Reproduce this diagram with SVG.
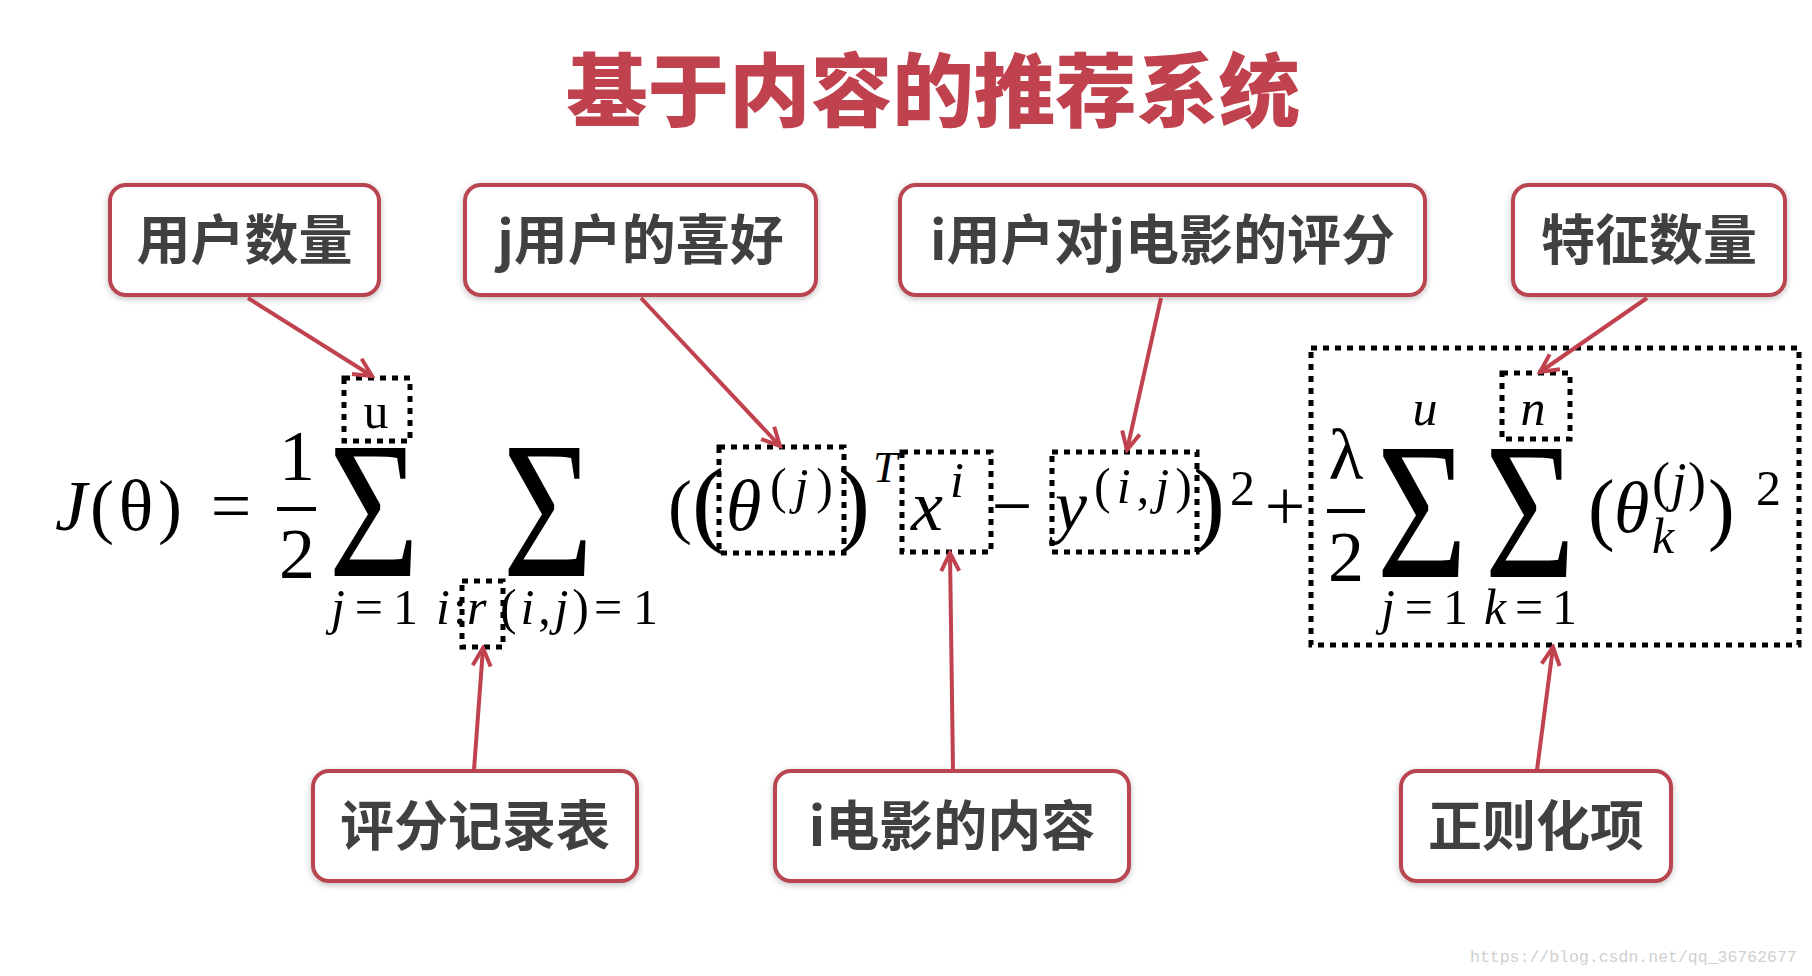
<svg xmlns="http://www.w3.org/2000/svg" width="1812" height="976" viewBox="0 0 1812 976">
<style>
.title{font-family:"Noto Sans CJK SC","Noto Sans",sans-serif;font-weight:900;font-size:80px;fill:#c0424e;text-anchor:middle}
.box{fill:#fff;stroke:#b8454f;stroke-width:4}
.lbl{font-family:"Noto Sans CJK SC","Noto Sans",sans-serif;font-weight:700;font-size:54px;fill:#404040;text-anchor:middle}
.m{font-family:"Liberation Serif","Times New Roman",serif;fill:#000}
.it{font-style:italic}
.big{font-size:72px}
.sup{font-size:50px}
.lim{font-size:50px}
.mid{text-anchor:middle}
.dot{fill:none;stroke:#000;stroke-width:5;stroke-dasharray:6 6}
.arr{fill:none;stroke:#c0424f;stroke-width:4;marker-end:url(#ah)}
.wm{font-family:"Liberation Mono",monospace;font-size:16.5px;fill:#d0d0d0}
</style>
<defs>
<marker id="ah" viewBox="0 0 24 24" refX="21" refY="12" markerWidth="24" markerHeight="24" orient="auto" markerUnits="userSpaceOnUse">
<path d="M3,3 L21,12 L3,21" fill="none" stroke="#c0424f" stroke-width="4"/>
</marker>
<filter id="sh" x="-10%" y="-20%" width="120%" height="140%">
<feDropShadow dx="0" dy="2" stdDeviation="3" flood-color="#000" flood-opacity="0.25"/>
</filter>
</defs>
<rect width="1812" height="976" fill="#fff"/>
<text class="title" x="933" y="120" textLength="734" lengthAdjust="spacingAndGlyphs">基于内容的推荐系统</text>

<g id="n-users"><rect class="box" filter="url(#sh)" x="110" y="185" width="269" height="110" rx="16"/><text class="lbl" x="244.5" y="260">用户数量</text></g>
<g id="n-pref"><rect class="box" filter="url(#sh)" x="465" y="185" width="351" height="110" rx="16"/><text class="lbl" x="640.5" y="260">j用户的喜好</text></g>
<g id="n-rating"><rect class="box" filter="url(#sh)" x="900" y="185" width="525" height="110" rx="16"/><text class="lbl" x="1162.5" y="260">i用户对j电影的评分</text></g>
<g id="n-feat"><rect class="box" filter="url(#sh)" x="1513" y="185" width="272" height="110" rx="16"/><text class="lbl" x="1649" y="260">特征数量</text></g>
<g id="n-table"><rect class="box" filter="url(#sh)" x="313" y="771" width="324" height="110" rx="16"/><text class="lbl" x="475" y="846">评分记录表</text></g>
<g id="n-content"><rect class="box" filter="url(#sh)" x="775" y="771" width="354" height="110" rx="16"/><text class="lbl" x="952" y="846">i电影的内容</text></g>
<g id="n-reg"><rect class="box" filter="url(#sh)" x="1401" y="771" width="270" height="110" rx="16"/><text class="lbl" x="1536" y="846">正则化项</text></g>

<g id="formula">
<text class="m big it" x="55" y="530">J</text>
<text class="m big" x="90" y="530" textLength="92" lengthAdjust="spacing">(θ)</text>
<text class="m big mid" x="231" y="530">=</text>
<text class="m big mid" x="297" y="480">1</text>
<line x1="277" y1="509" x2="316" y2="509" stroke="#000" stroke-width="4"/>
<text class="m big mid" x="297" y="578">2</text>
<text class="m mid" font-size="195" transform="translate(374,576) scale(0.8,1)">Σ</text>
<text class="m sup mid" x="376" y="428">u</text>
<text class="m lim" x="331" y="624" textLength="87" lengthAdjust="spacing"><tspan class="it">j</tspan>=1</text>
<text class="m mid" font-size="195" transform="translate(548,576) scale(0.8,1)">Σ</text>
<text class="m lim it" x="436" y="624">i</text>
<text class="m lim" x="453" y="624">:</text>
<text class="m lim it" x="467" y="624">r</text>
<text class="m lim" x="500" y="624" textLength="89" lengthAdjust="spacing">(<tspan class="it">i</tspan>,<tspan class="it">j</tspan>)</text>
<text class="m lim" x="594" y="624" textLength="64" lengthAdjust="spacing">=1</text>

<text class="m big" x="668" y="530">(</text>
<text class="m" font-size="96" x="692" y="534">(</text>
<text class="m big it" x="726" y="530">θ</text>
<text class="m sup" x="770" y="503" textLength="63" lengthAdjust="spacing">(<tspan class="it">j</tspan>)</text>
<text class="m" font-size="96" x="838" y="534">)</text>
<text class="m it" font-size="44" x="873" y="482">T</text>
<text class="m big it" x="911" y="530">x</text>
<text class="m sup it" x="950" y="497">i</text>
<text class="m big mid" x="1012" y="530">−</text>
<text class="m big it" x="1055" y="530">y</text>
<text class="m sup" x="1094" y="503" textLength="98" lengthAdjust="spacing">(<tspan class="it">i</tspan>,<tspan class="it">j</tspan>)</text>
<text class="m" font-size="96" x="1193" y="534">)</text>
<text class="m sup" x="1230" y="505">2</text>
<text class="m big mid" x="1285" y="530">+</text>

<text class="m big mid" x="1346" y="479">λ</text>
<line x1="1327" y1="511" x2="1365" y2="511" stroke="#000" stroke-width="4"/>
<text class="m big mid" x="1346" y="581">2</text>
<text class="m mid" font-size="195" transform="translate(1422,577) scale(0.8,1)">Σ</text>
<text class="m sup it mid" x="1425" y="425">u</text>
<text class="m lim" x="1381" y="624" textLength="87" lengthAdjust="spacing"><tspan class="it">j</tspan>=1</text>
<text class="m mid" font-size="195" transform="translate(1530,577) scale(0.8,1)">Σ</text>
<text class="m sup it mid" x="1533" y="425">n</text>
<text class="m lim" x="1484" y="624" textLength="93" lengthAdjust="spacing"><tspan class="it">k</tspan>=1</text>
<text class="m" font-size="80" x="1588" y="535">(</text>
<text class="m big it" x="1614" y="532">θ</text>
<text class="m" font-size="54" x="1652" y="500" textLength="54" lengthAdjust="spacing">(<tspan class="it">j</tspan>)</text>
<text class="m sup it" x="1652" y="553">k</text>
<text class="m" font-size="80" x="1708" y="535">)</text>
<text class="m sup" x="1756" y="505">2</text>
</g>

<g id="highlights">
<rect class="dot" x="344" y="378" width="66" height="63"/>
<rect class="dot" x="462" y="581" width="41" height="66"/>
<rect class="dot" x="719" y="447" width="125" height="106"/>
<rect class="dot" x="902" y="452" width="89" height="100"/>
<rect class="dot" x="1052" y="452" width="145" height="100"/>
<rect class="dot" x="1311" y="348" width="488" height="297" stroke-width="6" stroke-dasharray="7 7"/>
<rect class="dot" x="1502" y="373" width="68" height="66"/>
</g>

<g id="connectors">
<line class="arr" x1="248" y1="298" x2="372" y2="376"/>
<line class="arr" x1="641" y1="298" x2="780" y2="446"/>
<line class="arr" x1="1161" y1="298" x2="1127" y2="450"/>
<line class="arr" x1="1647" y1="298" x2="1540" y2="372"/>
<line class="arr" x1="474" y1="770" x2="483" y2="648"/>
<line class="arr" x1="953" y1="770" x2="950" y2="553"/>
<line class="arr" x1="1537" y1="770" x2="1553" y2="647"/>
</g>

<text class="wm" x="1470" y="962">https://blog.csdn.net/qq_36762677</text>
</svg>
